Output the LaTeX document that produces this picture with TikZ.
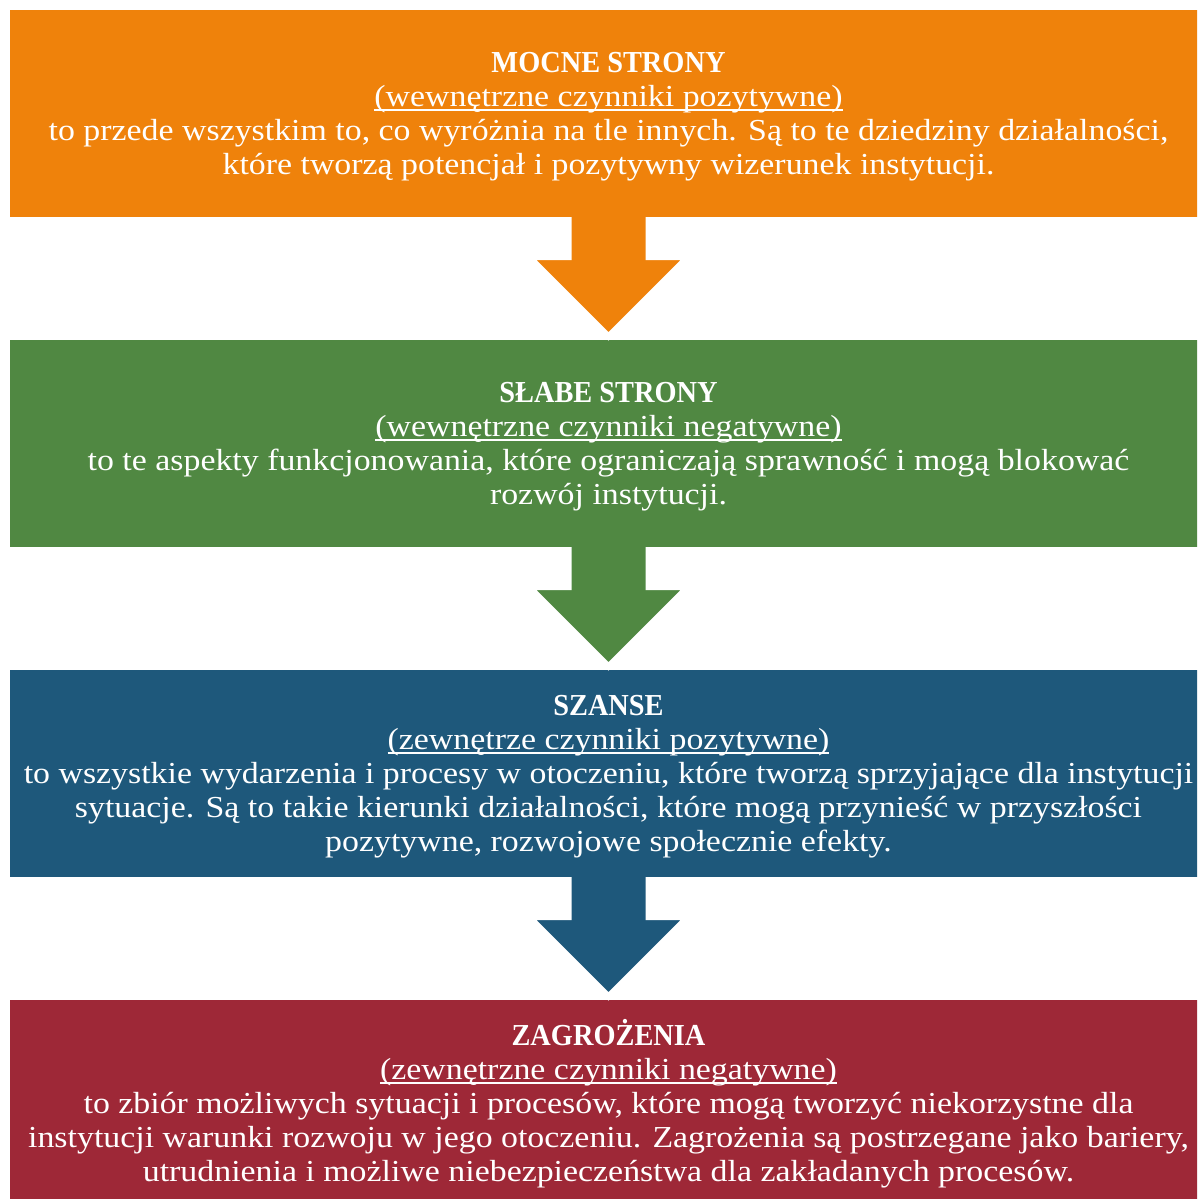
\documentclass[tikz,border=0pt]{standalone}
\usepackage{fontspec}
\setmainfont{Liberation Serif}[FakeStretch=1.11]
\newfontfamily\swottitle{Liberation Serif}[FakeStretch=0.93]
\usetikzlibrary{calc}

\definecolor{mocneC}{RGB}{239,130,11}
\definecolor{slabeC}{RGB}{80,136,66}
\definecolor{szanseC}{RGB}{30,88,123}
\definecolor{zagrozC}{RGB}{158,40,55}

\newsavebox{\sublinebox}
\newcommand{\subline}[1]{\sbox{\sublinebox}{#1}%
  \rlap{\rule[-4.5pt]{\wd\sublinebox}{1.8pt}}\usebox{\sublinebox}}
\newcommand{\swothead}[1]{\rule{0pt}{26pt}{\swottitle\bfseries #1}}

\tikzset{
  swotbox/.style={fill=#1, text=white, minimum width=1197, minimum height=207,
    inner sep=0, align=center, font=\fontsize{30.5}{34}\selectfont},
  flowarrow/.style={fill=#1, draw=white, line width=6}
}

\begin{document}
\begin{tikzpicture}[x=1pt, y=1pt]
\useasboundingbox (0,0) rectangle (1197,1199);
\clip (0,0) rectangle (1197,1199);

\node[swotbox=mocneC] (mocne) at (608.5,1085.5) {\swothead{MOCNE STRONY}\\
  \subline{(wewnętrzne czynniki pozytywne)}\\
  to przede wszystkim to, co wyróżnia na tle innych. Są to te dziedziny działalności,\\
  które tworzą potencjał i pozytywny wizerunek instytucji.};

\node[swotbox=slabeC] (slabe) at (608.5,755.5) {\swothead{SŁABE STRONY}\\
  \subline{(wewnętrzne czynniki negatywne)}\\
  to te aspekty funkcjonowania, które ograniczają sprawność i mogą blokować\\
  rozwój instytucji.};

\node[swotbox=szanseC] (szanse) at (608.5,425.5) {\swothead{SZANSE}\\
  \subline{(zewnętrze czynniki pozytywne)}\\
  to wszystkie wydarzenia i procesy w otoczeniu, które tworzą sprzyjające dla instytucji\\
  sytuacje. Są to takie kierunki działalności, które mogą przynieść w przyszłości\\
  pozytywne, rozwojowe społecznie efekty.};

\node[swotbox=zagrozC] (zagroz) at (608.5,95.5) {\swothead{ZAGROŻENIA}\\
  \subline{(zewnętrzne czynniki negatywne)}\\
  to zbiór możliwych sytuacji i procesów, które mogą tworzyć niekorzystne dla\\
  instytucji warunki rozwoju w jego otoczeniu. Zagrożenia są postrzegane jako bariery,\\
  utrudnienia i możliwe niebezpieczeństwa dla zakładanych procesów.};

% arrows between the boxes
\filldraw[flowarrow=mocneC] ($(mocne.south)+(-40,0)$) -- ++(0,-40) -- ++(-39.2,0)
  -- ++(79.2,-79.2) -- ++(79.2,79.2) -- ++(-39.2,0) -- ++(0,40);
\filldraw[flowarrow=slabeC] ($(slabe.south)+(-40,0)$) -- ++(0,-40) -- ++(-39.2,0)
  -- ++(79.2,-79.2) -- ++(79.2,79.2) -- ++(-39.2,0) -- ++(0,40);
\filldraw[flowarrow=szanseC] ($(szanse.south)+(-40,0)$) -- ++(0,-40) -- ++(-39.2,0)
  -- ++(79.2,-79.2) -- ++(79.2,79.2) -- ++(-39.2,0) -- ++(0,40);

\end{tikzpicture}
\end{document}
